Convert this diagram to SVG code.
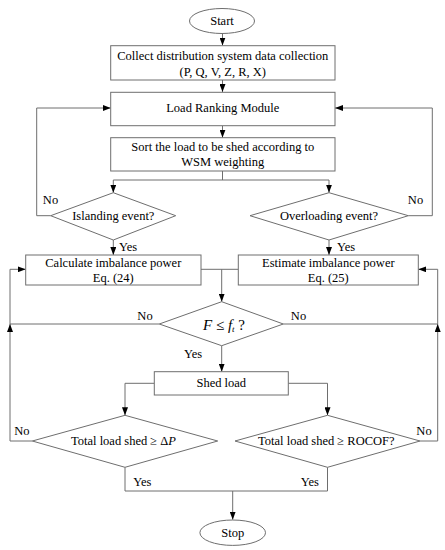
<svg xmlns="http://www.w3.org/2000/svg" width="445" height="550" viewBox="0 0 445 550">
<defs>
<marker id="ah" viewBox="0 0 8 6" refX="8" refY="3" markerWidth="8" markerHeight="6" markerUnits="userSpaceOnUse" orient="auto">
<path d="M0,0 L8,3 L0,6 Z" fill="#000"/>
</marker>
</defs>
<style>
.s{fill:#fff;stroke:#6e6e6e;stroke-width:1}
.c{fill:none;stroke:#6e6e6e;stroke-width:1}
.a{marker-end:url(#ah)}
text{font-family:"Liberation Serif","Times New Roman",serif;font-size:12.5px;fill:#000}
.m{text-anchor:middle}
.e{text-anchor:end}
</style>
<rect width="445" height="550" fill="#fff"/>
<g id="connectors">
<path class="c a" d="M222.5,33.5 V45.5"/>
<path class="c a" d="M222.5,80 V92"/>
<path class="c a" d="M222.5,125.7 V137.7"/>
<path class="c" d="M222.5,171 V180 M113.3,180 H329"/>
<path class="c a" d="M113.3,180 V192.7"/>
<path class="c a" d="M329,180 V192.7"/>
<path class="c a" d="M50.7,215.7 H36.7 V108 H110.7"/>
<path class="c a" d="M408.3,215.7 H432.3 V108 H335"/>
<path class="c a" d="M113.3,240 V255"/>
<path class="c a" d="M329,240 V255"/>
<path class="c" d="M201,269.3 H238.3"/>
<path class="c a" d="M221.7,269.3 V301.7"/>
<path class="c" d="M159.3,324 H10"/>
<path class="c" d="M283.3,324 H437.7"/>
<path class="c a" d="M221.7,345.7 V371.7"/>
<path class="c a" d="M154.3,383.3 H125 V415.3"/>
<path class="c a" d="M288.3,383.3 H327.5 V415.3"/>
<path class="c a" d="M32.3,441 H10 V324"/>
<path class="c a" d="M10,324 V269.3 H25.7"/>
<path class="c a" d="M420,441 H437.7 V324"/>
<path class="c a" d="M437.7,324 V269.3 H418.3"/>
<path class="c" d="M125,467.3 V491 H327.5 V467.3"/>
<path class="c a" d="M232.7,491 V519.7"/>
</g>
<g id="start">
<ellipse class="s" cx="222" cy="21" rx="32.5" ry="12.5"/>
<text class="m" x="222" y="25.3">Start</text>
</g>
<g id="collect">
<rect class="s" x="110.7" y="45.7" width="224.3" height="34.3"/>
<text class="m" x="222.8" y="60">Collect distribution system data collection</text>
<text class="m" x="222.8" y="76">(P, Q, V, Z, R, X)</text>
</g>
<g id="ranking">
<rect class="s" x="110.7" y="92.3" width="224.3" height="33.4"/>
<text class="m" x="222.8" y="112.3">Load Ranking Module</text>
</g>
<g id="sort">
<rect class="s" x="110.7" y="137.7" width="224.3" height="33.3"/>
<text class="m" x="222.8" y="151">Sort the load to be shed according to</text>
<text class="m" x="222.8" y="166.3">WSM weighting</text>
</g>
<g id="islanding">
<polygon class="s" points="113.3,192.7 175.7,215.7 113.3,240 50.7,215.7"/>
<text class="m" x="113.3" y="220">Islanding event?</text>
<text class="m" x="50.5" y="204">No</text>
<text x="119" y="251.3">Yes</text>
</g>
<g id="overloading">
<polygon class="s" points="329,192.7 408.3,215.7 329,240 250,215.7"/>
<text class="m" x="329" y="220">Overloading event?</text>
<text class="m" x="415.5" y="204">No</text>
<text x="337" y="251.3">Yes</text>
</g>
<g id="calculate">
<rect class="s" x="25.7" y="255" width="175.3" height="30"/>
<text class="m" x="113.3" y="266.6">Calculate imbalance power</text>
<text class="m" x="113.3" y="282.4">Eq. (24)</text>
</g>
<g id="estimate">
<rect class="s" x="238.3" y="255" width="180" height="30"/>
<text class="m" x="328.3" y="266.6">Estimate imbalance power</text>
<text class="m" x="328.3" y="282.4">Eq. (25)</text>
</g>
<g id="freq">
<polygon class="s" points="221.7,301.7 283.3,324 221.7,345.7 159.3,324"/>
<text class="m" x="224" y="329.5" style="font-size:15px"><tspan font-style="italic">F</tspan> ≤ <tspan font-style="italic">f</tspan><tspan font-style="italic" font-size="9" dy="2">t</tspan><tspan dy="-2"> ?</tspan></text>
<text class="m" x="145" y="320">No</text>
<text class="m" x="298.5" y="320">No</text>
<text class="m" x="193" y="357.6">Yes</text>
</g>
<g id="shed">
<rect class="s" x="154.3" y="371.7" width="134" height="23.3"/>
<text class="m" x="221.3" y="387">Shed load</text>
</g>
<g id="total-p">
<polygon class="s" points="125,415.3 217.7,441 125,467.3 32.3,441"/>
<text class="m" x="123.5" y="445.3">Total load shed ≥ Δ<tspan font-style="italic">P</tspan></text>
<text class="m" x="21.8" y="435">No</text>
<text x="133.3" y="486">Yes</text>
</g>
<g id="total-rocof">
<polygon class="s" points="327.5,415.3 420,441 327.5,467.3 235,441"/>
<text class="m" x="326.3" y="445.3">Total load shed ≥ ROCOF?</text>
<text class="m" x="424" y="435">No</text>
<text class="e" x="319" y="486">Yes</text>
</g>
<g id="stop">
<ellipse class="s" cx="232.7" cy="532.7" rx="32.8" ry="12.7"/>
<text class="m" x="232.7" y="537">Stop</text>
</g>
</svg>
